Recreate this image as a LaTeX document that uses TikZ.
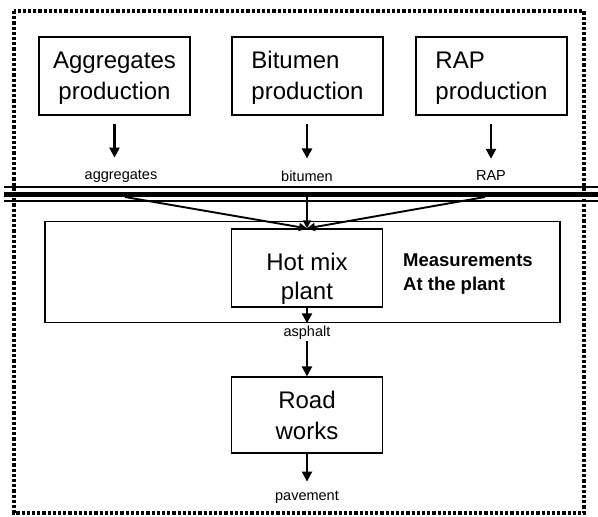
\documentclass[tikz,border=0pt]{standalone}
\usepackage{fontspec}
\setmainfont{Liberation Sans}
\usetikzlibrary{arrows.meta,positioning}

\begin{document}
\begin{tikzpicture}[x=1pt, y=1pt,
    arr/.style={-{Triangle[length=10pt,width=10pt]}, line width=2.2pt},
    inarr/.style={-{Triangle[length=8pt,width=8pt]}, line width=1.9pt},
    procbox/.style={draw, line width=1.2pt, minimum width=151pt, minimum height=78pt,
                    inner sep=2pt, font=\fontsize{24}{31}\selectfont},
    flowlbl/.style={inner sep=0pt, font=\fontsize{14.5}{16}\selectfont},
    sysframe/.style={line width=3.5pt, dash pattern=on 3.2pt off 2pt}
  ]
  \useasboundingbox (0,0) rectangle (598,517);
  % system boundary
  \draw[sysframe] (14,506) rectangle (584,4);

  % raw material production
  \node[procbox, align=center] (agg) at (114.5,441) {\rule{0pt}{20pt}Aggregates\\production};
  \node[procbox, align=left] (bit) at (307.5,441) {\rule{0pt}{20pt}Bitumen\\production};
  \node[procbox, align=left] (rap) at (491.5,441) {\rule{0pt}{20pt}RAP\\production};

  \node[flowlbl] (aggl) at (121,341) {aggregates};
  \node[flowlbl] (bitl) at (307,341) {bitumen};
  \node[flowlbl] (rapl) at (491,341) {RAP};

  \draw[arr, shorten <=8pt, shorten >=12pt] (agg.south) -- (agg.south |- aggl.north);
  \draw[arr, shorten <=8pt, shorten >=12pt] (bit.south -| bitl.north) -- (bitl.north);
  \draw[arr, shorten <=8pt, shorten >=12pt] (rap.south -| rapl.north) -- (rapl.north);

  % transport line
  \coordinate (busW) at (4,322.5);
  \coordinate (busE) at (598,322.5);
  \draw[line width=5pt] (busW) -- (busE);
  \draw[line width=1.6pt] ([yshift=7.5pt]busW) -- ([yshift=7.5pt]busE);
  \draw[line width=1.6pt] ([yshift=-6.5pt]busW) -- ([yshift=-6.5pt]busE);

  % plant
  \node[draw, line width=1.2pt, minimum width=515pt, minimum height=101pt] (meas) at (302.5,244.8) {};
  \node[procbox, align=center, font=\fontsize{24}{29}\selectfont] (hmp) at (307,249) {\rule{0pt}{38pt}Hot mix\\plant};
  \node[anchor=west, align=left, inner sep=0pt,
        font=\bfseries\fontsize{18.5}{24}\selectfont] (meastxt) at (403,243) {Measurements\\At the plant};

  \coordinate (inA) at (125,320);
  \coordinate (inB) at (307,320);
  \coordinate (inC) at (485,320);
  \draw[inarr] (inA) -- (hmp.north);
  \draw[inarr] (inB) -- (hmp.north);
  \draw[inarr] (inC) -- (hmp.north);

  \draw[arr] (hmp.south) -- (hmp.south |- meas.south);
  \node[flowlbl] (asph) at (307,184) {asphalt};

  % road construction
  \node[procbox, align=center, minimum height=76pt] (road) at (307,102) {Road\\works};
  \draw[arr, shorten <=1pt] (asph) -- (road);
  \node[flowlbl] (pave) at (307,20) {pavement};
  \draw[arr, shorten >=9pt] (road) -- (pave);
\end{tikzpicture}
\end{document}
